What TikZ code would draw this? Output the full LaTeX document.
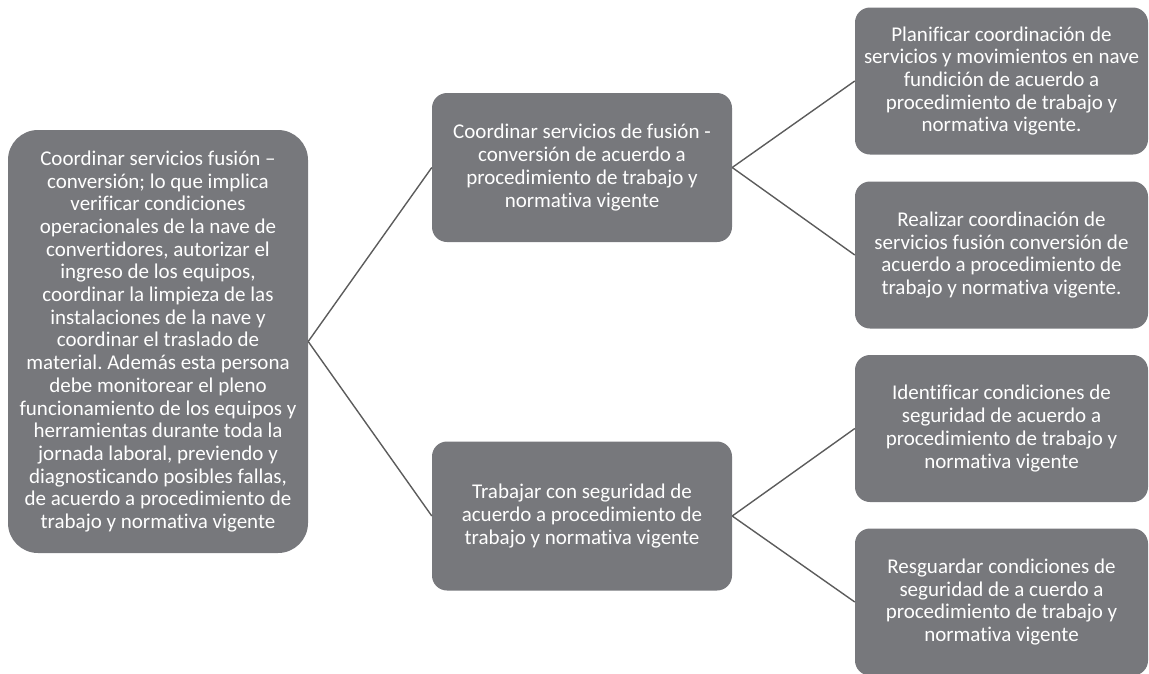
\documentclass[tikz,border=0pt]{standalone}
\usepackage{fontspec}
\setmainfont{Carlito}[Ligatures={NoCommon}]
\usepackage{tikz}
\definecolor{cajagris}{RGB}{119,120,124}
\definecolor{lineagris}{RGB}{92,92,92}
\frenchspacing

\begin{document}
\begin{tikzpicture}[x=1pt,y=-1pt,
	tarea/.style={rectangle, rounded corners=15pt, fill=cajagris, text=white, align=center, inner sep=0pt, font=\fontsize{21}{22.7}\selectfont},
	media/.style={tarea, minimum width=300pt, minimum height=149pt},
	final/.style={tarea, minimum width=293pt, minimum height=147pt},
	enlace/.style={draw=lineagris, line width=1.4pt}]

	\useasboundingbox (0,0) rectangle (1149,673);

	% funcion principal
	\node[tarea, rounded corners=30pt, minimum width=300pt, minimum height=423pt] (funcion) at (158,341.5) {Coordinar servicios fusión –\\conversión; lo que implica\\verificar condiciones\\operacionales de la nave de\\convertidores, autorizar el\\ingreso de los equipos,\\coordinar la limpieza de las\\instalaciones de la nave y\\coordinar el traslado de\\material. Además esta persona\\debe monitorear el pleno\\funcionamiento de los equipos y\\herramientas durante toda la\\jornada laboral, previendo y\\diagnosticando posibles fallas,\\de acuerdo a procedimiento de\\trabajo y normativa vigente};

	% unidades
	\node[media] (coordinar) at (582,167.5) {Coordinar servicios de fusión -\\conversión de acuerdo a\\procedimiento de trabajo y\\normativa vigente};
	\node[media] (seguridad) at (582,516) {Trabajar con seguridad de\\acuerdo a procedimiento de\\trabajo y normativa vigente};

	% elementos
	\node[final] (planificar) at (1001.5,81) {Planificar coordinación de\\servicios y movimientos en nave\\fundición de acuerdo a\\procedimiento de trabajo y\\normativa vigente.};
	\node[final] (realizar) at (1001.5,255) {Realizar coordinación de\\servicios fusión conversión de\\acuerdo a procedimiento de\\trabajo y normativa vigente.};
	\node[final] (identificar) at (1001.5,428.5) {Identificar condiciones de\\seguridad de acuerdo a\\procedimiento de trabajo y\\normativa vigente};
	\node[final] (resguardar) at (1001.5,602) {Resguardar condiciones de\\seguridad de a cuerdo a\\procedimiento de trabajo y\\normativa vigente};

	\draw[enlace] (funcion.east) -- (coordinar.west);
	\draw[enlace] (funcion.east) -- (seguridad.west);
	\draw[enlace] (coordinar.east) -- (planificar.west);
	\draw[enlace] (coordinar.east) -- (realizar.west);
	\draw[enlace] (seguridad.east) -- (identificar.west);
	\draw[enlace] (seguridad.east) -- (resguardar.west);
\end{tikzpicture}
\end{document}
